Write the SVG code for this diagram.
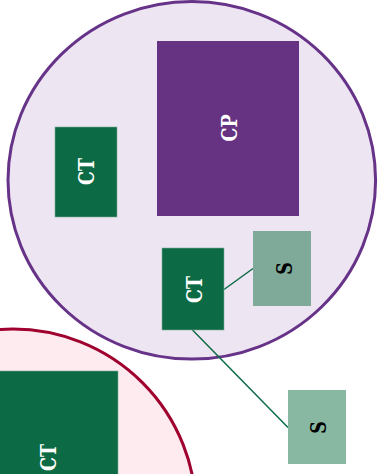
<svg xmlns="http://www.w3.org/2000/svg" width="378" height="474" viewBox="0 0 378 474">
<style>
.ct{fill:#0C6B45;stroke:#7FAA9A;stroke-width:0.6}
.s1{fill:#7FAA9A}
.s2{fill:#88B8A2}
.lbl{font-family:"DejaVu Serif","Liberation Serif",serif;font-weight:bold;font-size:17.5px;text-anchor:middle}
.w{fill:#FFFFFF}
.k{fill:#000000}
.edge{stroke:#0C6B45;stroke-width:1.5;fill:none}
</style>
<rect width="378" height="474" fill="#FFFFFF"/>
<g id="group-pink">
<circle cx="13" cy="512" r="183" fill="#FDEBEF" stroke="#A0002E" stroke-width="3"/>
</g>
<g id="group-purple">
<ellipse cx="191.8" cy="180.3" rx="183.8" ry="178.8" fill="#EEE5F3" stroke="#663388" stroke-width="3"/>
</g>
<g id="connectors">
<line class="edge" x1="224" y1="289.5" x2="253" y2="268.5"/>
<line class="edge" x1="192.5" y1="330" x2="288" y2="427.5"/>
</g>
<g id="CP">
<rect x="157" y="41" width="142" height="175" fill="#653382"/>
<text class="lbl w" x="0" y="6.4" transform="translate(228.5,128) rotate(-90) scale(1,1.25)">CP</text>
</g>
<g id="CT1">
<rect class="ct" x="55" y="127" width="62" height="90"/>
<text class="lbl w" x="0" y="6.4" transform="translate(86.3,171.5) rotate(-90) scale(1,1.25)">CT</text>
</g>
<g id="CT2">
<rect class="ct" x="162" y="248" width="62" height="82"/>
<text class="lbl w" x="0" y="6.4" transform="translate(194,289.5) rotate(-90) scale(1,1.25)">CT</text>
</g>
<g id="S1">
<rect class="s1" x="253" y="231" width="58" height="75"/>
<text class="lbl k" x="0" y="6.4" transform="translate(283.5,268.5) rotate(-90) scale(1,1.25)">S</text>
</g>
<g id="S2">
<rect class="s2" x="288" y="390" width="58" height="74"/>
<text class="lbl k" x="0" y="6.4" transform="translate(317.5,427.5) rotate(-90) scale(1,1.25)">S</text>
</g>
<g id="CT3">
<rect class="ct" x="-24" y="371" width="142" height="175"/>
<text class="lbl w" x="0" y="6.4" transform="translate(48,457.5) rotate(-90) scale(1,1.25)">CT</text>
</g>
</svg>
